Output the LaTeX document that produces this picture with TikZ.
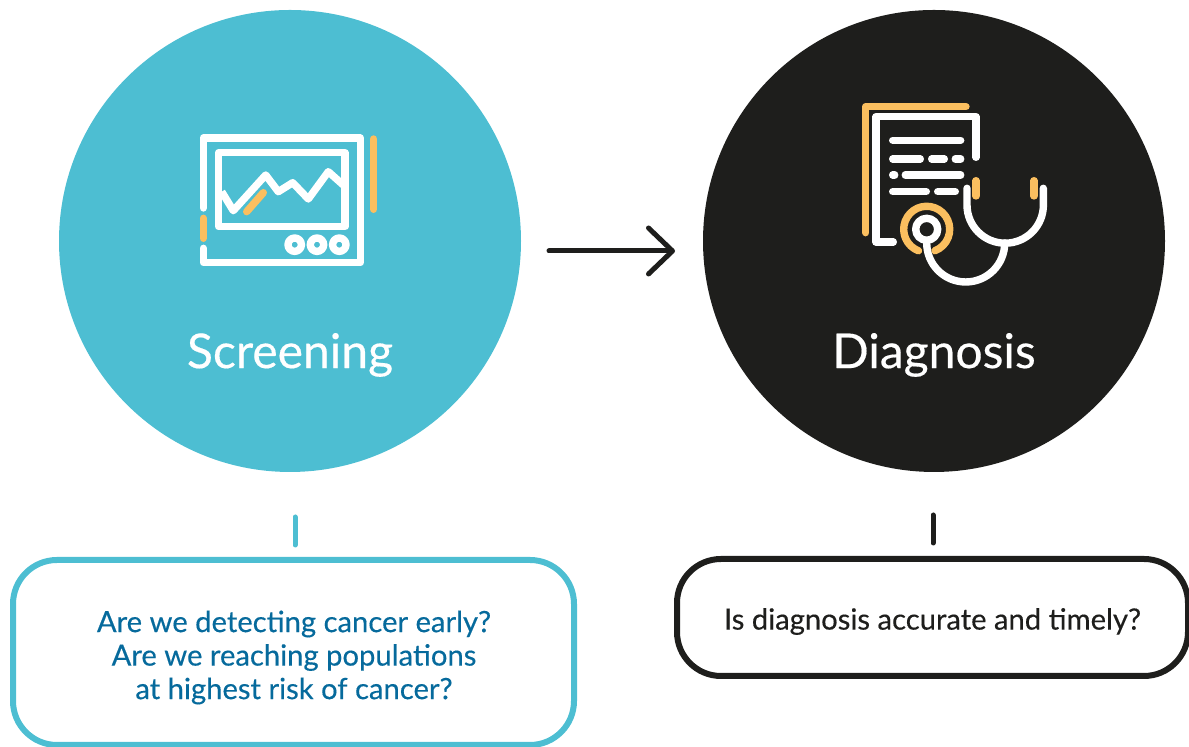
\documentclass[tikz,border=0pt]{standalone}
\usepackage{fontspec}
\setmainfont{Lato}[UprightFeatures={FakeBold=0.35}]
\usepackage{xcolor}
\usetikzlibrary{arrows.meta}
\definecolor{screenblue}{HTML}{4DBED2}
\definecolor{diagblack}{HTML}{1E1E1C}
\definecolor{iconorange}{HTML}{FBBF5F}
\definecolor{questionblue}{HTML}{066A9C}

\begin{document}
\begin{tikzpicture}[x=.5pt,y=.5pt,line cap=round,line join=round,
  every node/.style={align=center},
  bigcircle/.style={circle,minimum size=231pt,inner sep=0pt},
  biglabel/.style={font=\fontsize{24}{28}\selectfont,text=white},
  questionbox/.style={draw,line width=3pt,rounded corners=22pt},
  question/.style={font=\fontsize{14.6}{16.75}\selectfont},
  icon/.style={white,line width=3.7pt},
  iconacc/.style={iconorange,line width=3.7pt},
  tick/.style={line width=2.5pt}]

  \useasboundingbox (0,0) rectangle (1189,747);

  % circles
  \node (screening) [bigcircle,fill=screenblue] at (290,506) {};
  \node (diagnosis) [bigcircle,fill=diagblack] at (934,506) {};
  \node (screeninglabel) [biglabel] at (290,392) {Screening};
  \node (diagnosislabel) [biglabel] at (934,392) {Diagnosis};

  % arrow
  \coordinate (arrowstart) at (549,496);
  \coordinate (arrowend) at (675,496);
  \draw[diagblack,line width=2.5pt,-{Straight Barb[length=12pt,width=23pt,round]}] (arrowstart) -- (arrowend);

  % monitor
  \draw[icon] (203.3,539) -- (203.3,609) -- (360.3,609) -- (360.3,484.3) -- (203.3,484.3) -- (203.3,498.7);
  \draw[iconacc] (373.7,608) -- (373.7,537.7);
  \draw[iconacc] (203.3,528.7) -- (203.3,508.7);
  \draw[icon] (218.7,520.3) rectangle (345,594.3);
  \draw[icon,line cap=butt] (221.7,555.3) -- (233.3,536.3) -- (265.7,572) -- (278.3,555.3) -- (292.7,564.3) -- (308.3,548) -- (328.3,575.3) -- (343.3,562);
  \draw[iconacc] (246.7,535.3) -- (263.3,554.3);
  \foreach \x in {294.7,317,339.3}
    \draw[icon] (\x,502.3) circle[radius=6.7];

  % document
  \draw[iconacc] (865.7,514.3) -- (865.7,640.3) -- (966,640.3);
  \draw[icon] (893.3,505) -- (876,505) -- (876,630.3) -- (976,630.3) -- (976,589.7);
  \draw[icon] (892.7,606.7) -- (960.7,606.7);
  \draw[icon] (892.7,588) -- (920.3,588);
  \draw[icon] (931.7,588) -- (944.3,588);
  \draw[icon] (955.3,588) -- (960.7,588);
  \draw[icon] (892.7,572) -- (894.7,572);
  \draw[icon] (905.3,572) -- (960.7,572);
  \draw[icon] (892.7,555.3) -- (926.3,555.3);
  \draw[icon] (937.7,555.3) -- (955.3,555.3);

  % stethoscope
  \draw[iconacc] (976,566.3) -- (976,551);
  \draw[iconacc] (1034,566.3) -- (1034,551);
  \draw[icon] (967,558.7) -- (967,542) arc[start angle=180,end angle=360,radius=38.2] -- (1043.3,558.7);
  \draw[icon] (926.7,504) arc[start angle=180,end angle=360,radius=39];
  \draw[icon] (926.7,517.7) circle[radius=11];
  \draw[iconacc] (926.7,517.7) ++(249:23) arc[start angle=249,end angle=-69,radius=23];

  % ticks
  \coordinate (ticktopa) at (295,230);
  \coordinate (tickbota) at (295,202);
  \coordinate (ticktopb) at (933,232);
  \coordinate (tickbotb) at (933,204);
  \draw[tick,screenblue] (ticktopa) -- (tickbota);
  \draw[tick,diagblack] (ticktopb) -- (tickbotb);

  % questions
  \node (boxscreening) [questionbox,draw=screenblue,minimum width=280.5pt,minimum height=92.5pt] at (293.5,94.5) {};
  \node (boxdiagnosis) [questionbox,draw=diagblack,minimum width=255.5pt,minimum height=58.5pt] at (932.5,129.5) {};
  \node (questionscreening) [question,text=questionblue] at (294,89.5)
    {Are we detecting cancer early?\\Are we reaching populations\hspace*{3pt}\\at highest risk of cancer?};
  \node (questiondiagnosis) [question,text=diagblack] at (932.5,125.5)
    {Is diagnosis accurate and timely?};
\end{tikzpicture}
\end{document}
